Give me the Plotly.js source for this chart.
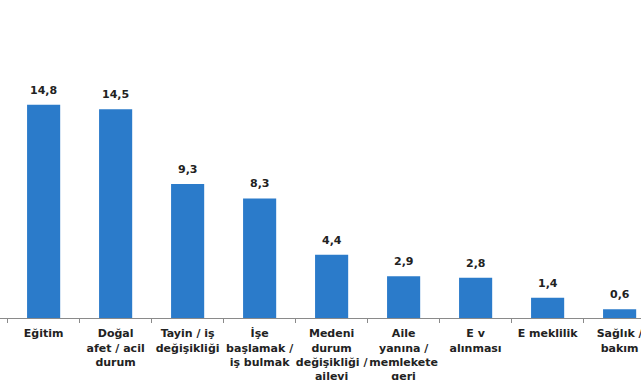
<!DOCTYPE html>
<html><head><meta charset="utf-8">
<script src="https://cdn.plot.ly/plotly-3.0.1.min.js"></script>
<style>html,body{margin:0;padding:0;background:#fff;}#chart{width:641px;height:380px;}</style>
</head><body><div id="chart"></div>
<script>
const categories = ["Eğitim", "Doğal<br>afet / acil<br>durum", "Tayin / iş<br>değişikliği", "İşe<br>başlamak /<br>iş bulmak", "Medeni<br>durum<br>değişikliği /<br>ailevi", "Aile<br>yanına /<br>memlekete<br>geri", "E v<br>alınması", "E meklilik", "Sağlık /<br>bakım"];
const values = [14.8, 14.5, 9.3, 8.3, 4.4, 2.9, 2.8, 1.4, 0.6];
const labels = values.map(v => v.toFixed(1).replace('.', ','));
const idx = categories.map((c, i) => i);

const annotations = idx.map(i => ({
  x: i, y: values[i], xref: 'x', yref: 'y', text: labels[i], showarrow: false,
  yanchor: 'bottom', yshift: 6,
  font: {family: 'DejaVu Sans, sans-serif', size: 11, color: '#222', weight: 'bold'}
}));

Plotly.newPlot('chart', [{
  type: 'bar', x: idx, y: values, width: 0.46, marker: {color: '#2b7bca'}, hoverinfo: 'none'
}, {
  type: 'scatter', x: [0], y: [0], xaxis: 'x2', mode: 'markers', marker: {opacity: 0}, hoverinfo: 'none'
}], {
  width: 641, height: 380, margin: {l: 0, r: 0, t: 0, b: 62},
  paper_bgcolor: '#fff', plot_bgcolor: '#fff', showlegend: false,
  font: {family: 'DejaVu Sans, sans-serif', color: '#222'},
  annotations: annotations,
  xaxis: {range: [-0.606, 8.297], tickmode: 'array', tickvals: idx, ticktext: categories,
    ticks: '', showline: true, linecolor: '#8a8a8a', linewidth: 1, showgrid: false, zeroline: false,
    ticklabelstandoff: 5, tickangle: 0, automargin: false, ticklabeloverflow: 'allow',
    tickfont: {family: 'DejaVu Sans, sans-serif', size: 11, color: '#222', weight: 'bold'}},
  xaxis2: {overlaying: 'x', range: [-0.606, 8.297], tickmode: 'array', tickvals: idx.map(i => i - 0.5),
    showticklabels: false, ticks: 'outside', ticklen: 4, tickcolor: '#8a8a8a', showgrid: false, zeroline: false, showline: false},
  yaxis: {range: [0, 22.08], visible: false}
}, {staticPlot: true});
</script></body></html>
